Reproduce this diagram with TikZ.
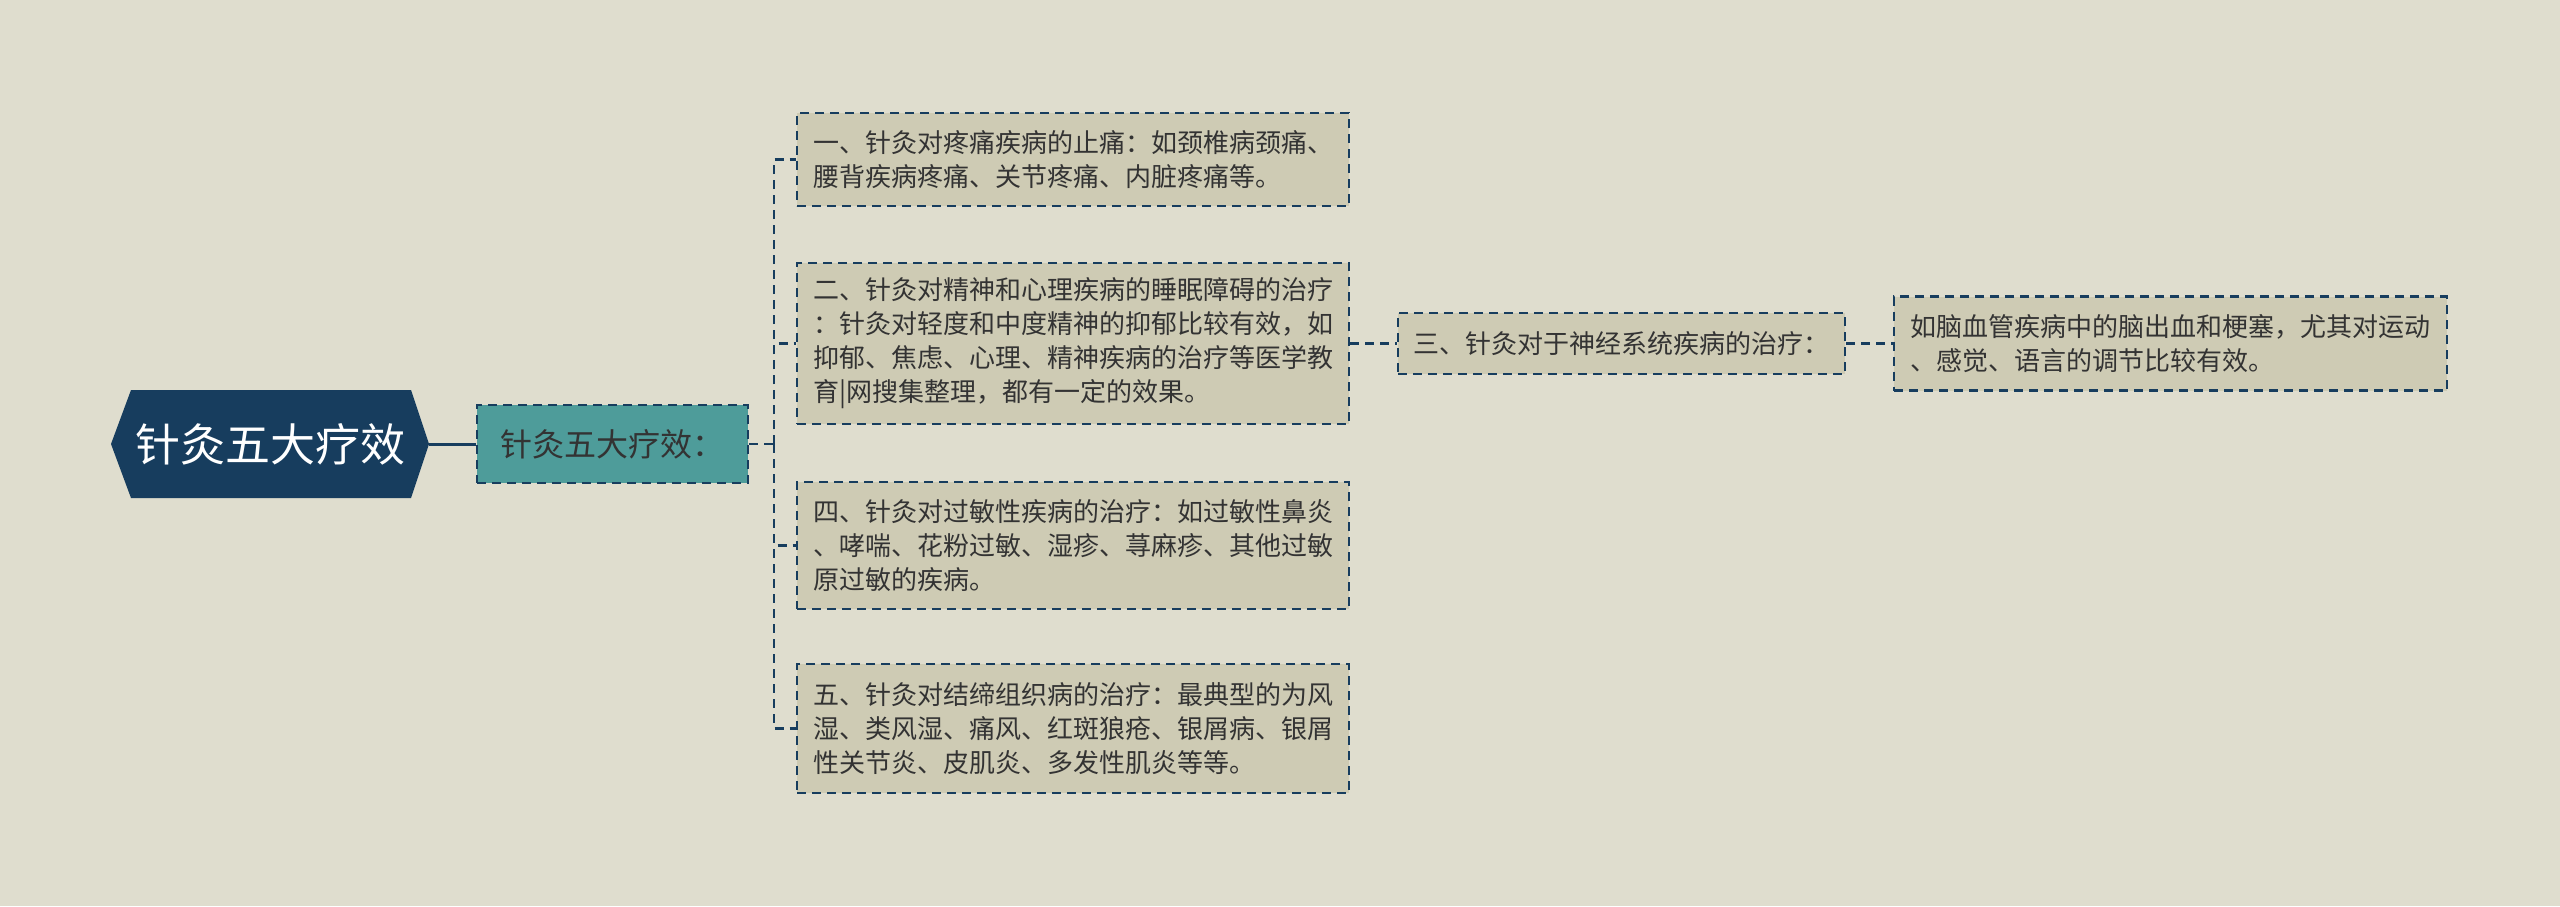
\documentclass[tikz,border=0pt]{standalone}
\usepackage{fontspec}
\newfontfamily\cjk{Noto Sans CJK SC}
\definecolor{bgc}{HTML}{DFDDCE}
\definecolor{navy}{HTML}{173D5E}
\definecolor{teal2}{HTML}{4E9C9A}
\definecolor{boxc}{HTML}{CECBB4}
\definecolor{txtc}{HTML}{333333}
\begin{document}
\begin{tikzpicture}[x=1pt,y=-1pt,
  leaf/.style={draw=navy, line width=2.2pt, dash pattern=on 9pt off 6pt, fill=boxc,
    font=\cjk\fontsize{26}{34}\selectfont, text=txtc, align=left,
    minimum width=552pt, inner sep=0pt},
  conn/.style={draw=navy, line width=2.2pt, dash pattern=on 9pt off 6pt}]
\fill[bgc] (0,0) rectangle (2560,906);
\useasboundingbox (0,0) rectangle (2560,906);
% root hexagon
\fill[navy] (111,444) -- (131,390) -- (411,390) -- (429,444) -- (411,498) -- (131,498) -- cycle;
\node[minimum width=318pt, minimum height=108pt, inner sep=0pt, text=white,
  font=\cjk\fontsize{45}{50}\selectfont] (root) at (270,444) {针灸五大疗效};
% child
\node[draw=navy, line width=2.2pt, dash pattern=on 9pt off 6pt, fill=teal2,
  minimum width=271pt, minimum height=78pt, inner sep=0pt, text=txtc,
  font=\cjk\fontsize{32}{36}\selectfont] (child) at (612.5,444) {针灸五大疗效：};
% leaves
\node[leaf, minimum height=93pt] (b1) at (1073,159.5) {一、针灸对疼痛疾病的止痛：如颈椎病颈痛、\\腰背疾病疼痛、关节疼痛、内脏疼痛等。};
\node[leaf, minimum height=161pt] (b2) at (1073,343.5) {二、针灸对精神和心理疾病的睡眠障碍的治疗\\：针灸对轻度和中度精神的抑郁比较有效，如\\抑郁、焦虑、心理、精神疾病的治疗等医学教\\育|网搜集整理，都有一定的效果。};
\node[leaf, minimum height=127pt] (b4) at (1073,545.5) {四、针灸对过敏性疾病的治疗：如过敏性鼻炎\\、哮喘、花粉过敏、湿疹、荨麻疹、其他过敏\\原过敏的疾病。};
\node[leaf, minimum height=129pt] (b5) at (1073,728.5) {五、针灸对结缔组织病的治疗：最典型的为风\\湿、类风湿、痛风、红斑狼疮、银屑病、银屑\\性关节炎、皮肌炎、多发性肌炎等等。};
\node[leaf, minimum width=447pt, minimum height=61pt] (b3) at (1621.5,343.5) {三、针灸对于神经系统疾病的治疗：};
\node[leaf, minimum width=553pt, minimum height=94pt] (b6) at (2170.5,343.5) {如脑血管疾病中的脑出血和梗塞，尤其对运动\\、感觉、语言的调节比较有效。};
% connectors
\draw[navy, line width=3pt] (root.east) -- (child.west);
\coordinate (trunk) at (774,444);
\draw[conn] (child.east) -- (trunk);
\draw[conn] (trunk) |- (b1.west);
\draw[conn] (trunk) |- (b2.west);
\draw[conn] (trunk) |- (b4.west);
\draw[conn] (trunk) |- (b5.west);
\draw[conn] (b2.east) -- (b3.west);
\draw[conn] (b3.east) -- (b6.west);
\end{tikzpicture}
\end{document}
